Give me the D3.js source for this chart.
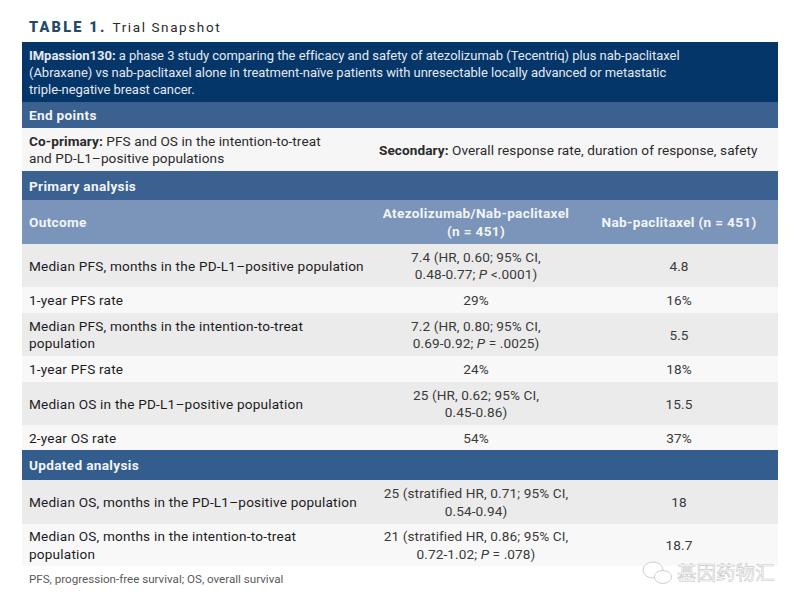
<!DOCTYPE html>
<html>
<head>
<meta charset="utf-8">
<script src="https://cdn.jsdelivr.net/npm/d3@7"></script>
<style>
  body { margin: 0; background: #fff; }
  svg { display: block; }
  text { font-family: Roboto, sans-serif; font-size: 13.6px; letter-spacing: .08px; }
  .intro { font-size: 13px; letter-spacing: -.03px; }
  .label { letter-spacing: .2px; }
  .value { letter-spacing: .1px; }
  .head { font-weight: 700; letter-spacing: .33px; }
</style>
</head>
<body>
<div id="table"></div>
<script>
// *bold* and _italic_ markers inside the strings
const introLines = [
    "*IMpassion130:* a phase 3 study comparing the efficacy and safety of atezolizumab (Tecentriq) plus nab-paclitaxel",
    "(Abraxane) vs nab-paclitaxel alone in treatment-naïve patients with unresectable locally advanced or metastatic",
    "triple-negative breast cancer."
]
const sections = ["End points", "Primary analysis", "Updated analysis"]
const coPrimary = ["*Co-primary:* PFS and OS in the intention-to-treat", "and PD-L1–positive populations"]
const secondary = ["*Secondary:* Overall response rate, duration of response, safety"]
const headers = [["Outcome"], ["Atezolizumab/Nab-paclitaxel", "(n = 451)"], ["Nab-paclitaxel (n = 451)"]]

const outcomes = [
    ["Median PFS, months in the PD-L1–positive population"],
    ["1-year PFS rate"],
    ["Median PFS, months in the intention-to-treat", "population"],
    ["1-year PFS rate"],
    ["Median OS in the PD-L1–positive population"],
    ["2-year OS rate"],
    ["Median OS, months in the PD-L1–positive population"],
    ["Median OS, months in the intention-to-treat", "population"]
]
const comboValues = [
    ["7.4 (HR, 0.60; 95% CI,", "0.48-0.77; _P_ <.0001)"],
    ["29%"],
    ["7.2 (HR, 0.80; 95% CI,", "0.69-0.92; _P_ = .0025)"],
    ["24%"],
    ["25 (HR, 0.62; 95% CI,", "0.45-0.86)"],
    ["54%"],
    ["25 (stratified HR, 0.71; 95% CI,", "0.54-0.94)"],
    ["21 (stratified HR, 0.86; 95% CI,", "0.72-1.02; _P_ = .078)"]
]
const nabValues = ["4.8", "16%", "5.5", "18%", "15.5", "37%", "18", "18.7"]
const footnote = "PFS, progression-free survival; OS, overall survival"
const watermark = "基因药物汇"

var width = 800, height = 608;
var tableLeft = 22, tableRight = 778;
var textLeft = 29, secondLeft = 379, col2 = 476, col3 = 679;
var lineGap = 17.3;

// row edges, top to bottom
var edges = [42, 102, 128, 171, 200, 244, 287, 313, 356, 382, 425, 450, 480, 524, 566];

var svg = d3.select("#table")
    .append("svg")
    .attr("width", width)
    .attr("height", height);

// adds one block of lines centred on cy, splitting the markers into tspans
function drawLines(lines, x, cy, anchor, color, cls) {
    var first = cy + 5 - (lines.length - 1) * lineGap / 2;
    lines.forEach(function(line, i) {
        var t = svg.append("text")
            .attr("class", cls)
            .attr("x", x)
            .attr("y", first + i * lineGap)
            .attr("text-anchor", anchor)
            .attr("fill", color);
        line.split(/(\*[^*]+\*|_[^_]+_)/).filter(d => d).forEach(function(part) {
            var s = t.append("tspan");
            if (part[0] === "*") s.attr("font-weight", 700).text(part.slice(1, -1));
            else if (part[0] === "_") s.attr("font-style", "italic").text(part.slice(1, -1));
            else s.text(part);
        });
    });
}

function band(i, fill) {
    svg.append("rect")
        .attr("x", tableLeft)
        .attr("y", edges[i])
        .attr("width", tableRight - tableLeft)
        .attr("height", edges[i + 1] - edges[i])
        .attr("fill", fill);
}
function mid(i) { return (edges[i] + edges[i + 1]) / 2; }

// title
var title = svg.append("text")
    .attr("x", 29).attr("y", 32);
title.append("tspan")
    .attr("font-weight", 900)
    .attr("fill", "#26496b")
    .style("font-size", "14.5px")
    .style("letter-spacing", "2.2px")
    .text("TABLE 1.");
title.append("tspan")
    .attr("dx", 6)
    .attr("fill", "#2b2b2b")
    .style("font-size", "13.5px")
    .style("letter-spacing", "1.6px")
    .text("Trial Snapshot");

// intro band
band(0, "#04366a");
drawLines(introLines, textLeft, mid(0), "start", "#e4e9f0", "intro");

// end points
band(1, "#3a618f");
drawLines([sections[0]], textLeft, mid(1), "start", "#f2f4f7", "head");
band(2, "#f6f6f6");
drawLines(coPrimary, textLeft, mid(2), "start", "#2a2a2a", "body");
drawLines(secondary, secondLeft, mid(2), "start", "#2a2a2a", "body");

// primary analysis + column headers
band(3, "#3a618f");
drawLines([sections[1]], textLeft, mid(3), "start", "#f2f4f7", "head");
band(4, "#7b94ba");
drawLines(headers[0], textLeft, mid(4), "start", "#f2f4f7", "head");
drawLines(headers[1], col2, mid(4), "middle", "#f2f4f7", "head");
drawLines(headers[2], col3, mid(4), "middle", "#f2f4f7", "head");

// data rows, the updated analysis band sits between row 6 and 7
outcomes.forEach(function(d, i) {
    var r = i < 6 ? i + 5 : i + 6;
    band(r, i % 2 == 0 ? "#ebebeb" : "#f8f8f8");
    drawLines(d, textLeft, mid(r), "start", "#1c1c1c", "label");
    drawLines(comboValues[i], col2, mid(r), "middle", "#3a3a3a", "value");
    drawLines([nabValues[i]], col3, mid(r), "middle", "#3a3a3a", "value");
});
band(11, "#325d8c");
drawLines([sections[2]], textLeft, mid(11), "start", "#f2f4f7", "head");

// footnote
svg.append("text")
    .attr("x", textLeft).attr("y", 583)
    .attr("fill", "#5a5a5a")
    .style("font-size", "11.6px")
    .style("letter-spacing", "0")
    .text(footnote);

// watermark
var mark = svg.append("g")
    .attr("fill", "#fff")
    .attr("stroke", "#cfcfcf")
    .attr("stroke-width", 1);
mark.append("ellipse").attr("cx", 653).attr("cy", 570).attr("rx", 10).attr("ry", 8);
mark.append("ellipse").attr("cx", 663).attr("cy", 577).attr("rx", 8.5).attr("ry", 6.5);
svg.append("text")
    .attr("x", 677).attr("y", 580)
    .attr("fill", "#fff")
    .attr("stroke", "#c8c8c8")
    .attr("stroke-width", .6)
    .style("font-family", "'Noto Sans CJK SC'")
    .style("font-size", "19.5px")
    .style("letter-spacing", "0")
    .text(watermark);
</script>
</body>
</html>
